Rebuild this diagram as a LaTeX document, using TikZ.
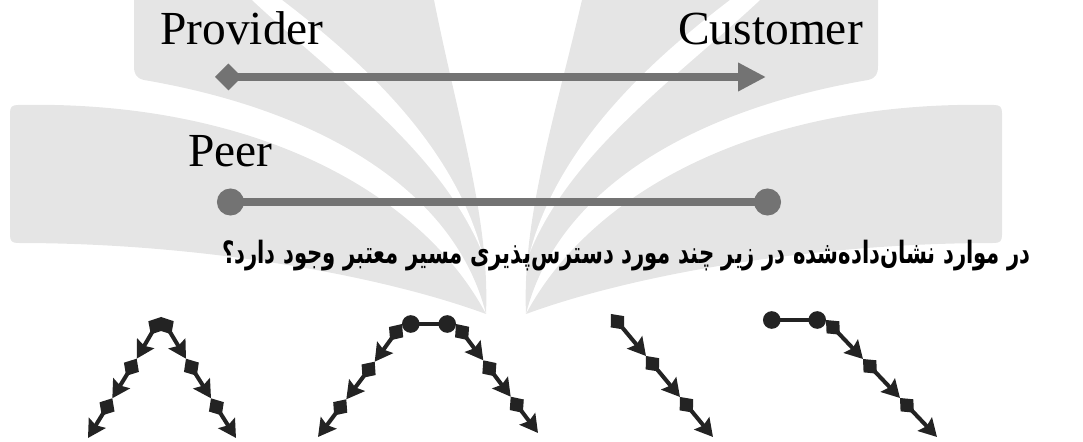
\documentclass[tikz,border=0pt]{standalone}
\usepackage{fontspec}
\setmainfont{Liberation Serif}
\newfontfamily\farsifont[Script=Arabic]{DejaVu Sans}
\TeXXeTstate=1
\usetikzlibrary{arrows.meta}
\definecolor{wmgray}{HTML}{E5E5E5}
\definecolor{linkgray}{HTML}{737373}
\definecolor{pathink}{HTML}{232323}
\tikzset{>=Stealth,
  legend/.style={font=\fontsize{27}{30}\selectfont, inner sep=0pt, anchor=base west},
  relprov/.style={line width=5.1pt, draw=linkgray,
    arrows={Diamond[length=15.3pt,width=15.3pt]-Triangle[length=15.9pt,width=15.3pt]}},
  relpeer/.style={line width=5.1pt, draw=linkgray,
    arrows={Circle[length=15.3pt]-Circle[length=15.3pt]}},
  hop/.style={line width=2.3pt, draw=pathink,
    arrows={Diamond[length=11.5pt,width=10pt]-Stealth[length=10pt,width=11pt,inset=1.5pt]}},
  peerhop/.style={line width=1.8pt, draw=pathink,
    arrows={Circle[length=10pt]-Circle[length=10pt]}},
}

\begin{document}
\begin{tikzpicture}[x=0.02cm, y=-0.02cm]
    \useasboundingbox (0,0) rectangle (1083,442);
    % watermark fan
    \fill[wmgray] (134,0) -- (434,0) .. controls (458,120) and (490,220) .. (486,314)
      .. controls (455,190) and (320,110) .. (144,80) .. controls (136,78) and (134,74) .. (134,66) -- cycle;
    \fill[wmgray] (878,0) -- (582,0) .. controls (554,120) and (522,220) .. (526,314)
      .. controls (557,190) and (692,110) .. (868,80) .. controls (876,78) and (878,74) .. (878,66) -- cycle;
    \fill[wmgray] (10,113) .. controls (10,107) and (12,105) .. (18,105)
      .. controls (250,100) and (420,190) .. (486,314)
      .. controls (380,275) and (200,243) .. (18,243) .. controls (12,243) and (10,241) .. (10,235) -- cycle;
    \fill[wmgray] (1002,113) .. controls (1002,107) and (1000,105) .. (994,105)
      .. controls (762,100) and (592,190) .. (526,314)
      .. controls (632,275) and (812,243) .. (994,243) .. controls (1000,243) and (1002,241) .. (1002,235) -- cycle;
    \fill[white] (252,0) .. controls (332,75) and (440,150) .. (482,252)
      .. controls (452,140) and (354,55) .. (282,0) -- cycle;
    \fill[white] (760,0) .. controls (680,75) and (572,150) .. (530,252)
      .. controls (560,140) and (658,55) .. (730,0) -- cycle;

    % legend
    \node[legend] (provider) at (160,45) {Provider};
    \node[legend] (customer) at (678,45) {Customer};
    \node[legend] (peer) at (188,167) {Peer};
    \coordinate (provL) at (215,77);
    \coordinate (custR) at (766,77);
    \coordinate (peerL) at (217,202);
    \coordinate (peerR) at (781,202);
    \draw[relprov] (provL) -- (custR);
    \draw[relpeer] (peerL) -- (peerR);

    \node[anchor=base east, inner sep=0pt, font=\farsifont\bfseries\fontsize{17.5}{20}\selectfont]
      (question) at (1031,264)
      {\scalebox{0.69}[1]{\beginR در موارد نشان^^^^200cداده^^^^200cشده در زیر چند مورد دسترس^^^^200cپذیری مسیر معتبر وجود دارد؟\endR}};

    % case 1
    \coordinate (a1) at (161,317);
    \coordinate (a1l1) at (136.7,358.7);
    \coordinate (a1l2) at (112.3,398.3);
    \coordinate (a1l3) at (88,438);
    \coordinate (a1r1) at (186,358.7);
    \coordinate (a1r2) at (211,398.3);
    \coordinate (a1r3) at (236,438);
    \draw[hop] (a1) -- (a1l1);
    \draw[hop] (a1l1) -- (a1l2);
    \draw[hop] (a1l2) -- (a1l3);
    \draw[hop] (a1) -- (a1r1);
    \draw[hop] (a1r1) -- (a1r2);
    \draw[hop] (a1r2) -- (a1r3);

    % case 2
    \coordinate (b1) at (402,324);
    \coordinate (b2) at (456,324);
    \coordinate (b1l1) at (374.7,361.7);
    \coordinate (b1l2) at (346.3,399.3);
    \coordinate (b1l3) at (318,437);
    \coordinate (b2r1) at (483.3,360.3);
    \coordinate (b2r2) at (510.7,396.7);
    \coordinate (b2r3) at (538,433);
    \draw[hop] (b1) -- (b1l1);
    \draw[hop] (b1l1) -- (b1l2);
    \draw[hop] (b1l2) -- (b1l3);
    \draw[hop] (b2) -- (b2r1);
    \draw[hop] (b2r1) -- (b2r2);
    \draw[hop] (b2r2) -- (b2r3);
    \draw[peerhop] (b1) -- (b2);

    % case 3
    \coordinate (c0) at (611,314);
    \coordinate (c1) at (646,356);
    \coordinate (c2) at (680,397);
    \coordinate (c3) at (713,437);
    \draw[hop] (c0) -- (c1);
    \draw[hop] (c1) -- (c2);
    \draw[hop] (c2) -- (c3);

    % case 4
    \coordinate (d0) at (763,320);
    \coordinate (d1) at (826,320);
    \coordinate (d2) at (863,359);
    \coordinate (d3) at (900,398);
    \coordinate (d4) at (937,437);
    \draw[peerhop] (d0) -- (d1);
    \draw[hop] (d1) -- (d2);
    \draw[hop] (d2) -- (d3);
    \draw[hop] (d3) -- (d4);
\end{tikzpicture}
\end{document}
